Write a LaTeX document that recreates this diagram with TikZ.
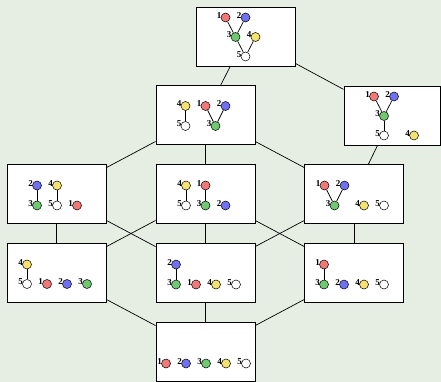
\documentclass[tikz,border=0pt]{standalone}
\usepackage{fontspec}
\setmainfont{Liberation Serif}
\definecolor{bgc}{RGB}{230,238,228}
\definecolor{vc1}{RGB}{242,120,120}
\definecolor{vc2}{RGB}{112,112,242}
\definecolor{vc3}{RGB}{112,200,112}
\definecolor{vc4}{RGB}{246,226,112}
\definecolor{vc5}{RGB}{255,255,255}
\tikzset{
  panel/.style={draw=black, line width=0.9pt, fill=white, minimum width=99pt,
    minimum height=59pt, inner sep=0pt},
  vtx/.style={circle, draw=black, line width=0.5pt, minimum size=9pt, inner sep=0pt},
  lbl/.style={inner sep=0pt, font=\bfseries\fontsize{9}{9}\selectfont,
    xshift=0.8pt, yshift=2pt},
  link/.style={line width=0.7pt},
  tie/.style={line width=0.7pt}
}
% vertex: name prefix, number (also colour index), position
\newcommand\Vx[3]{\node[vtx, fill=vc#2, label={[lbl]left:#2}] (#1#2) at (#3) {};}
\begin{document}
\begin{tikzpicture}[x=1pt, y=-1pt]
\useasboundingbox (0,0) rectangle (441,382);
\fill[bgc] (0,0) rectangle (441,382);

% panels
\node[panel] (pT) at (245.5,36.5) {};
\node[panel] (pA) at (205.5,115) {};
\node[panel, minimum width=96pt] (pB) at (392,115.5) {};
\node[panel] (pL3) at (56.5,194) {};
\node[panel] (pM3) at (205.5,194) {};
\node[panel] (pR3) at (354,194) {};
\node[panel] (pL4) at (56.5,273) {};
\node[panel] (pM4) at (205.5,273) {};
\node[panel] (pR4) at (354,273) {};
\node[panel] (pB5) at (205.5,352) {};

% order relations between panels
\draw[link] (pT) -- (pA);
\draw[link] (pT) -- (pB);
\draw[link] (pA) -- (pL3);
\draw[link] (pA) -- (pM3);
\draw[link] (pA) -- (pR3);
\draw[link] (pB) -- (pR3);
\draw[link] (pL3) -- (pL4);
\draw[link] (pL3) -- (pM4);
\draw[link] (pM3) -- (pL4);
\draw[link] (pM3) -- (pM4);
\draw[link] (pM3) -- (pR4);
\draw[link] (pR3) -- (pM4);
\draw[link] (pR3) -- (pR4);
\draw[link] (pL4) -- (pB5);
\draw[link] (pM4) -- (pB5);
\draw[link] (pR4) -- (pB5);

% top forest
\Vx{t}{1}{225.5,17.5} \Vx{t}{2}{245.5,17.5} \Vx{t}{3}{235.5,37}
\Vx{t}{4}{255.5,37} \Vx{t}{5}{245.5,56.5}
\draw[tie] (t1) -- (t3); \draw[tie] (t2) -- (t3);
\draw[tie] (t3) -- (t5); \draw[tie] (t4) -- (t5);

% second row, left
\Vx{a}{4}{185.5,106} \Vx{a}{5}{185.5,126} \Vx{a}{1}{205.5,106}
\Vx{a}{2}{225.5,106} \Vx{a}{3}{215.5,126}
\draw[tie] (a4) -- (a5); \draw[tie] (a1) -- (a3); \draw[tie] (a2) -- (a3);

% second row, right
\Vx{b}{1}{374,96.5} \Vx{b}{2}{394,96.5} \Vx{b}{3}{384,116}
\Vx{b}{5}{384,135.5} \Vx{b}{4}{414,135.5}
\draw[tie] (b1) -- (b3); \draw[tie] (b2) -- (b3); \draw[tie] (b3) -- (b5);

% third row
\Vx{c}{2}{37,185.5} \Vx{c}{3}{37,205.5} \Vx{c}{4}{57,185.5}
\Vx{c}{5}{57,205.5} \Vx{c}{1}{77,205.5}
\draw[tie] (c2) -- (c3); \draw[tie] (c4) -- (c5);

\Vx{d}{4}{186,185.5} \Vx{d}{5}{186,205.5} \Vx{d}{1}{205.5,185.5}
\Vx{d}{3}{205.5,205.5} \Vx{d}{2}{225.5,205.5}
\draw[tie] (d4) -- (d5); \draw[tie] (d1) -- (d3);

\Vx{e}{1}{324.5,185.5} \Vx{e}{2}{344.5,185.5} \Vx{e}{3}{334.5,205.5}
\Vx{e}{4}{364,205.5} \Vx{e}{5}{384,205.5}
\draw[tie] (e1) -- (e3); \draw[tie] (e2) -- (e3);

% fourth row
\Vx{f}{4}{27,264.5} \Vx{f}{5}{27,284} \Vx{f}{1}{47,284}
\Vx{f}{2}{67,284} \Vx{f}{3}{87,284}
\draw[tie] (f4) -- (f5);

\Vx{g}{2}{176,264.5} \Vx{g}{3}{176,284.5} \Vx{g}{1}{196,284.5}
\Vx{g}{4}{216,284.5} \Vx{g}{5}{236,284.5}
\draw[tie] (g2) -- (g3);

\Vx{h}{1}{324,264.5} \Vx{h}{3}{324,284.5} \Vx{h}{2}{344,284.5}
\Vx{h}{4}{364,284.5} \Vx{h}{5}{384,284.5}
\draw[tie] (h1) -- (h3);

% bottom: all singletons
\Vx{k}{1}{166,363.5} \Vx{k}{2}{186,363.5} \Vx{k}{3}{206,363.5}
\Vx{k}{4}{226,363.5} \Vx{k}{5}{246,363.5}
\end{tikzpicture}
\end{document}
